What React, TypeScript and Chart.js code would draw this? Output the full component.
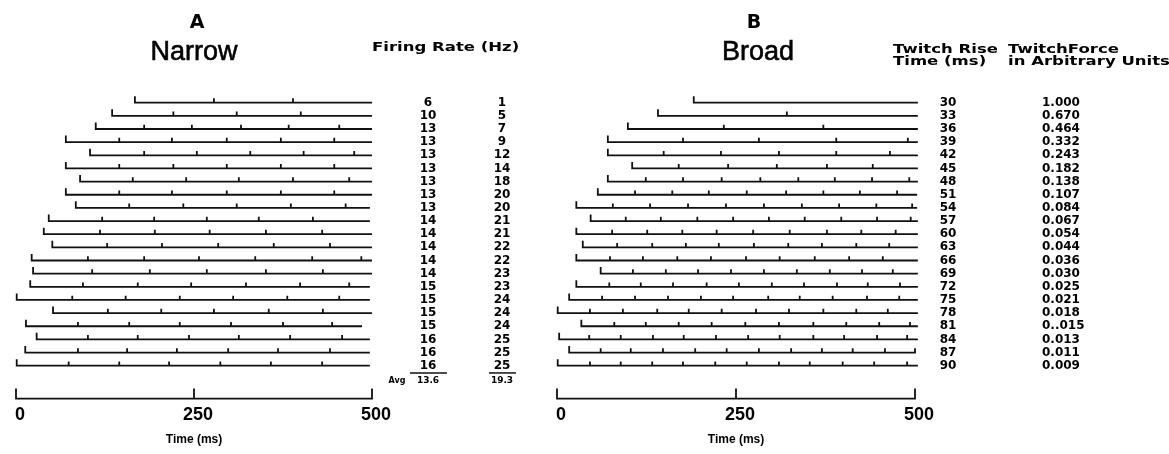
import React, { useEffect, useRef } from 'react';
import { Chart, registerables } from 'chart.js';

Chart.register(...registerables);

// ---- Time axis (ms) ----
const TIME_TICKS = [0, 250, 500];

// ---- Panel A: narrow-distribution spike trains (times in ms) ----
const narrowStart = [167, 135, 112, 70, 104, 70, 90, 70, 84, 46, 39, 51, 22, 24, 20, 1, 52, 14, 29, 13, 1];
const narrowEnd = [500, 500, 500, 500, 500, 500, 500, 500, 497, 497, 500, 500, 500, 500, 497, 497, 500, 486, 497, 497, 497];
const narrowSpikes = [
  [278, 389],
  [221, 310, 400],
  [180, 247, 316, 383, 454],
  [145, 219, 296, 372, 447],
  [180, 254, 329, 404, 475],
  [145, 221, 296, 372, 447],
  [164, 239, 313, 389, 468],
  [145, 219, 296, 372, 447],
  [159, 235, 310, 386, 463],
  [121, 194, 268, 341, 417],
  [118, 195, 272, 351, 430],
  [128, 205, 284, 362, 441],
  [101, 180, 257, 336, 416, 485],
  [107, 188, 268, 351, 431],
  [94, 171, 246, 323, 399, 468],
  [79, 154, 230, 305, 381, 454],
  [129, 204, 278, 355, 431],
  [87, 159, 230, 302, 375, 444],
  [101, 171, 243, 313, 385, 458],
  [87, 156, 226, 298, 368, 441],
  [74, 145, 215, 287, 358, 430],
];

// ---- Panel B: broad-distribution spike trains (times in ms) ----
const broadStart = [191, 141, 99, 71, 71, 105, 71, 57, 27, 47, 27, 36, 27, 61, 27, 17, 1, 34, 3, 17, 1];
const broadEnd = [504, 504, 504, 504, 504, 504, 504, 503, 503, 504, 504, 504, 504, 504, 504, 504, 504, 504, 504, 504, 504];
const broadSpikes = [
  [],
  [321],
  [233, 372],
  [176, 282, 390, 490],
  [149, 229, 310, 390, 465],
  [170, 239, 307, 377, 441],
  [124, 176, 230, 284, 337, 388, 440, 492],
  [109, 161, 212, 265, 320, 372, 423, 475],
  [78, 130, 183, 236, 289, 342, 394, 446, 496],
  [96, 145, 196, 246, 296, 346, 397, 447, 494],
  [77, 126, 175, 223, 274, 325, 377, 425, 473],
  [84, 133, 180, 226, 275, 323, 370, 418, 464],
  [74, 120, 168, 215, 264, 311, 360, 408, 455],
  [106, 152, 197, 243, 289, 335, 381, 426, 469],
  [73, 117, 162, 209, 254, 300, 345, 391, 434, 479],
  [63, 109, 155, 201, 246, 295, 339, 385, 433, 478],
  [46, 92, 140, 184, 230, 278, 324, 372, 418, 462],
  [80, 124, 170, 216, 263, 310, 358, 404, 450, 493],
  [45, 89, 134, 177, 222, 267, 311, 358, 401, 447, 489],
  [61, 103, 148, 193, 237, 282, 327, 370, 413, 458, 500],
  [46, 89, 133, 176, 221, 265, 310, 353, 399, 443, 489],
];

// ---- Table columns ----
const narrowRates = [6, 10, 13, 13, 13, 13, 13, 13, 13, 14, 14, 14, 14, 14, 15, 15, 15, 15, 16, 16, 16];
const broadRates = [1, 5, 7, 9, 12, 14, 18, 20, 20, 21, 21, 22, 22, 23, 23, 24, 24, 24, 25, 25, 25];
const avgRates = ['13.6', '19.3'];
const riseTimes = [30, 33, 36, 39, 42, 45, 48, 51, 54, 57, 60, 63, 66, 69, 72, 75, 78, 81, 84, 87, 90];
const twitchForce = [
  '1.000', '0.670', '0.464', '0.332', '0.243', '0.182', '0.138', '0.107', '0.084', '0.067', '0.054',
  '0.044', '0.036', '0.030', '0.025', '0.021', '0.018', '0..015', '0.013', '0.011', '0.009',
];

// ---- Geometry / style ----
const CANVAS_H = 454;
const BAR_ROW = 22.5;
const START_TICK = 0.5;
const SPIKE_TICK = 0.33;
const BAR_TICK = 0.76;
const INK = '#111';

const F_LETTER = "bold 19px 'DejaVu Sans'";
const F_TITLE = "27px 'Liberation Sans'";
const F_HEADER = "bold 13px 'DejaVu Sans'";
const HEADER_STRETCH = 1.27;
const F_VALUE = "bold 12px 'DejaVu Sans'";
const F_AVG_TAG = "bold 8px 'DejaVu Sans'";
const F_AVG = "bold 9px 'DejaVu Sans'";

type Pt = { x: number; y: number };

function trainPoints(start: number, end: number, spikes: number[], row: number): Pt[] {
  const pts: Pt[] = [
    { x: start, y: row - START_TICK },
    { x: start, y: row },
  ];
  for (const t of spikes) {
    pts.push({ x: t, y: row }, { x: t, y: row - SPIKE_TICK }, { x: t, y: row });
  }
  pts.push({ x: end, y: row });
  return pts;
}

function scaleBarPoints(): Pt[] {
  const pts: Pt[] = [];
  for (const t of TIME_TICKS) {
    pts.push({ x: t, y: BAR_ROW }, { x: t, y: BAR_ROW - BAR_TICK }, { x: t, y: BAR_ROW });
  }
  return pts;
}

const lineStyle = {
  showLine: true,
  borderColor: INK,
  borderWidth: 1.8,
  pointRadius: 0,
  pointHoverRadius: 0,
  tension: 0,
  clip: false as const,
};

function buildDatasets(starts: number[], ends: number[], spikes: number[][]) {
  const ds: any[] = starts.map((s, i) => ({ ...lineStyle, data: trainPoints(s, ends[i], spikes[i], i) }));
  ds.push({ ...lineStyle, data: scaleBarPoints() });
  return ds;
}

function drawText(
  ctx: CanvasRenderingContext2D,
  s: string,
  x: number,
  y: number,
  font: string,
  align: CanvasTextAlign = 'center',
  stretch = 1,
  weight = 0
) {
  ctx.save();
  ctx.font = font;
  ctx.fillStyle = '#000';
  ctx.strokeStyle = '#000';
  ctx.textAlign = align;
  ctx.textBaseline = 'middle';
  ctx.translate(x, y);
  ctx.scale(stretch, 1);
  ctx.fillText(s, 0, 0);
  if (weight > 0) {
    ctx.lineWidth = weight;
    ctx.strokeText(s, 0, 0);
  }
  ctx.restore();
}

function rule(ctx: CanvasRenderingContext2D, x0: number, x1: number, y: number) {
  ctx.save();
  ctx.strokeStyle = INK;
  ctx.lineWidth = 1.5;
  ctx.beginPath();
  ctx.moveTo(x0, y);
  ctx.lineTo(x1, y);
  ctx.stroke();
  ctx.restore();
}

type Decorate = (ctx: CanvasRenderingContext2D, rowY: (v: number) => number) => void;

const decorateNarrow: Decorate = (ctx, rowY) => {
  drawText(ctx, 'A', 197, 23, F_LETTER);
  drawText(ctx, 'Narrow', 194, 53, F_TITLE, 'center', 1, 0.6);
  drawText(ctx, 'Firing Rate (Hz)', 372, 48, F_HEADER, 'left', HEADER_STRETCH);
  narrowRates.forEach((v, i) => drawText(ctx, String(v), 428, rowY(i), F_VALUE));
  broadRates.forEach((v, i) => drawText(ctx, String(v), 502, rowY(i), F_VALUE));
  const ruleY = rowY(20.55);
  rule(ctx, 410, 447, ruleY);
  rule(ctx, 489, 516, ruleY);
  const avgY = rowY(21.15);
  drawText(ctx, 'Avg', 397, avgY, F_AVG_TAG);
  drawText(ctx, avgRates[0], 428, avgY, F_AVG);
  drawText(ctx, avgRates[1], 502, avgY, F_AVG);
};

const decorateBroad: Decorate = (ctx, rowY) => {
  drawText(ctx, 'B', 754, 23, F_LETTER);
  drawText(ctx, 'Broad', 758, 53, F_TITLE, 'center', 1, 0.6);
  drawText(ctx, 'Twitch Rise', 893, 50, F_HEADER, 'left', HEADER_STRETCH);
  drawText(ctx, 'Time (ms)', 893, 62, F_HEADER, 'left', HEADER_STRETCH);
  drawText(ctx, 'TwitchForce', 1008, 50, F_HEADER, 'left', HEADER_STRETCH);
  drawText(ctx, 'in Arbitrary Units', 1008, 62, F_HEADER, 'left', HEADER_STRETCH);
  riseTimes.forEach((v, i) => drawText(ctx, String(v), 948, rowY(i), F_VALUE));
  twitchForce.forEach((v, i) => drawText(ctx, v, 1042, rowY(i), F_VALUE, 'left'));
};

type PanelProps = {
  left: number;
  width: number;
  plotLeft: number;
  plotRight: number;
  starts: number[];
  ends: number[];
  spikes: number[][];
  decorate: Decorate;
};

function RasterPanel({ left, width, plotLeft, plotRight, starts, ends, spikes, decorate }: PanelProps) {
  const ref = useRef<HTMLCanvasElement>(null);

  useEffect(() => {
    if (!ref.current) return;
    const textPlugin = {
      id: 'panelText',
      afterDraw(chart: any) {
        const ctx = chart.ctx as CanvasRenderingContext2D;
        const y = chart.scales.y;
        ctx.save();
        ctx.translate(-left, 0);
        decorate(ctx, (v: number) => y.getPixelForValue(v));
        ctx.restore();
      },
    };
    const chart = new Chart(ref.current, {
      type: 'scatter',
      data: { datasets: buildDatasets(starts, ends, spikes) },
      options: {
        animation: false,
        responsive: false,
        maintainAspectRatio: false,
        events: [],
        layout: {
          padding: { left: plotLeft - left, right: left + width - plotRight, top: 89.55, bottom: 2.8 },
        },
        plugins: { legend: { display: false }, tooltip: { enabled: false } },
        scales: {
          x: {
            type: 'linear',
            position: 'bottom',
            min: 0,
            max: 500,
            grid: { display: false, drawTicks: false },
            border: { display: false },
            ticks: {
              stepSize: 250,
              autoSkip: false,
              maxRotation: 0,
              padding: 6,
              labelOffset: 4,
              color: '#000',
              font: { family: 'Liberation Sans', weight: 'bold', size: 18 },
            },
            title: {
              display: true,
              text: 'Time (ms)',
              color: '#000',
              font: { family: 'Liberation Sans', weight: 'bold', size: 12 },
              padding: { top: 4, bottom: 4 },
            },
            afterFit: (scale: any) => {
              scale.height = 52.6;
            },
          },
          y: { type: 'linear', reverse: true, min: -1, max: BAR_ROW, display: false },
        },
      } as any,
      plugins: [textPlugin],
    });
    return () => chart.destroy();
  }, []);

  return (
    <canvas
      ref={ref}
      width={width}
      height={CANVAS_H}
      style={{ position: 'absolute', left, top: 0, width, height: CANVAS_H }}
    />
  );
}

export default function App() {
  return (
    <div
      style={{
        position: 'absolute',
        left: 0,
        top: 0,
        width: 1169,
        height: CANVAS_H,
        background: '#fff',
        overflow: 'hidden',
      }}
    >
      <RasterPanel
        left={0}
        width={540}
        plotLeft={16}
        plotRight={372}
        starts={narrowStart}
        ends={narrowEnd}
        spikes={narrowSpikes}
        decorate={decorateNarrow}
      />
      <RasterPanel
        left={540}
        width={629}
        plotLeft={557}
        plotRight={915}
        starts={broadStart}
        ends={broadEnd}
        spikes={broadSpikes}
        decorate={decorateBroad}
      />
    </div>
  );
}
